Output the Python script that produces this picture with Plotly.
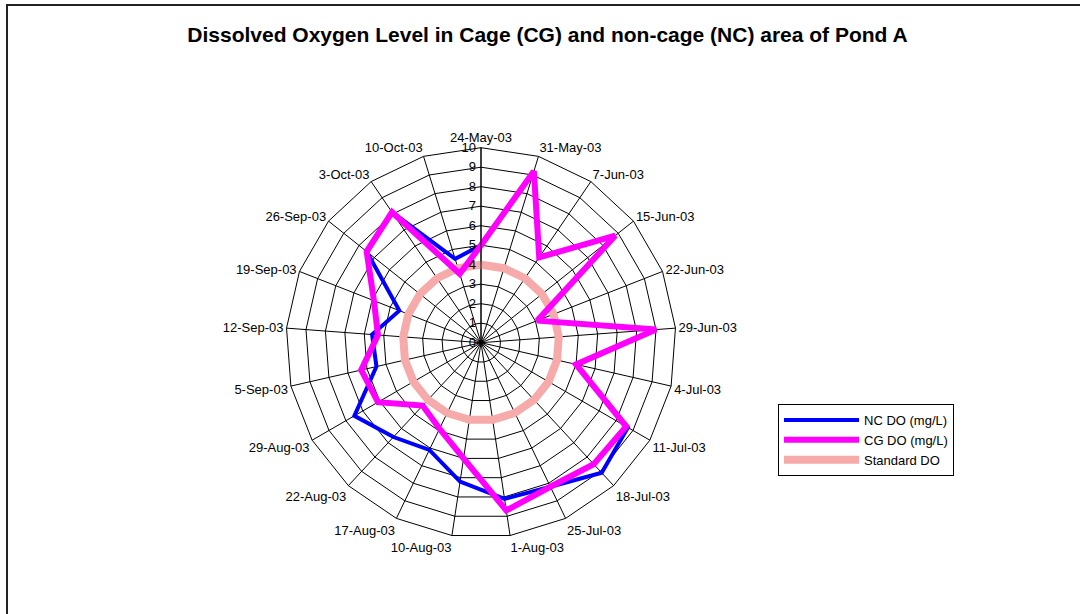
import plotly.graph_objects as go

# Sampling dates around the pond
dates = ["24-May-03", "31-May-03", "7-Jun-03", "15-Jun-03", "22-Jun-03", "29-Jun-03",
         "4-Jul-03", "11-Jul-03", "18-Jul-03", "25-Jul-03", "1-Aug-03", "10-Aug-03",
         "17-Aug-03", "22-Aug-03", "29-Aug-03", "5-Sep-03", "12-Sep-03", "19-Sep-03",
         "26-Sep-03", "3-Oct-03", "10-Oct-03"]

# Dissolved oxygen (mg/L)
nc_do = [5.0, 9.2, 5.3, 8.8, 3.1, 9.0, 5.0, 8.7, 9.1, 8.2, 8.1, 7.2,
         6.1, 6.6, 7.5, 5.5, 5.6, 4.5, 7.5, 8.1, 4.5]
cg_do = [5.0, 9.2, 5.3, 8.8, 3.1, 9.0, 5.0, 8.6, 8.5, 8.2, 8.7, 6.0,
         4.9, 4.4, 6.1, 6.3, 5.3, 5.9, 7.5, 8.1, 3.7]
standard_do = [4] * len(dates)

radial_ticks = list(range(0, 11))

FONT = "Liberation Sans, Arial, sans-serif"


def closed(vals):
    return vals + vals[:1]


theta = closed(dates)

fig = go.Figure()
fig.add_trace(go.Scatterpolar(
    r=closed(standard_do), theta=theta, mode="lines", name="Standard DO",
    line=dict(color="rgb(247,170,170)", width=8), legendrank=3))
fig.add_trace(go.Scatterpolar(
    r=closed(nc_do), theta=theta, mode="lines", name="NC DO (mg/L)",
    line=dict(color="#0000FF", width=4), legendrank=1))
fig.add_trace(go.Scatterpolar(
    r=closed(cg_do), theta=theta, mode="lines", name="CG DO (mg/L)",
    line=dict(color="#FF00FF", width=6), legendrank=2))

W, H = 1080, 614
cx, cy, R = 481, 342.7, 195

fig.update_layout(
    width=W, height=H,
    margin=dict(l=0, r=0, t=0, b=0),
    paper_bgcolor="white",
    font=dict(family=FONT, size=13, color="black"),
    title=dict(text="<b>Dissolved Oxygen Level in Cage (CG) and non-cage (NC) area of Pond A</b>",
               x=547.5 / W, xanchor="center", y=1 - 35 / H, yanchor="middle",
               font=dict(family=FONT, size=21, color="black")),
    polar=dict(
        domain=dict(x=[(cx - R) / W, (cx + R) / W],
                    y=[(H - cy - R) / H, (H - cy + R) / H]),
        bgcolor="white",
        gridshape="linear",
        angularaxis=dict(direction="clockwise", rotation=90,
                         categoryorder="array", categoryarray=dates,
                         showline=True, linecolor="black", linewidth=1,
                         gridcolor="black", gridwidth=1, ticks="",
                         tickfont=dict(family=FONT, size=13, color="black")),
        radialaxis=dict(range=[0, 10], tickvals=radial_ticks, angle=90,
                        side="counterclockwise", tickangle=90,
                        showline=True, linecolor="black", linewidth=1,
                        gridcolor="black", gridwidth=1, ticks="",
                        tickfont=dict(family=FONT, size=13, color="black")),
    ),
    legend=dict(x=778 / W, y=1 - 404 / H, xanchor="left", yanchor="top",
                bordercolor="black", borderwidth=1, bgcolor="white",
                font=dict(family=FONT, size=13, color="black"),
                itemwidth=75, traceorder="normal"),
    shapes=[dict(type="rect", xref="paper", yref="paper",
                 x0=7 / W, x1=1.02, y0=-0.02, y1=1 - 5 / H,
                 line=dict(color="#222", width=2))],
)

fig.write_html("out.html")
